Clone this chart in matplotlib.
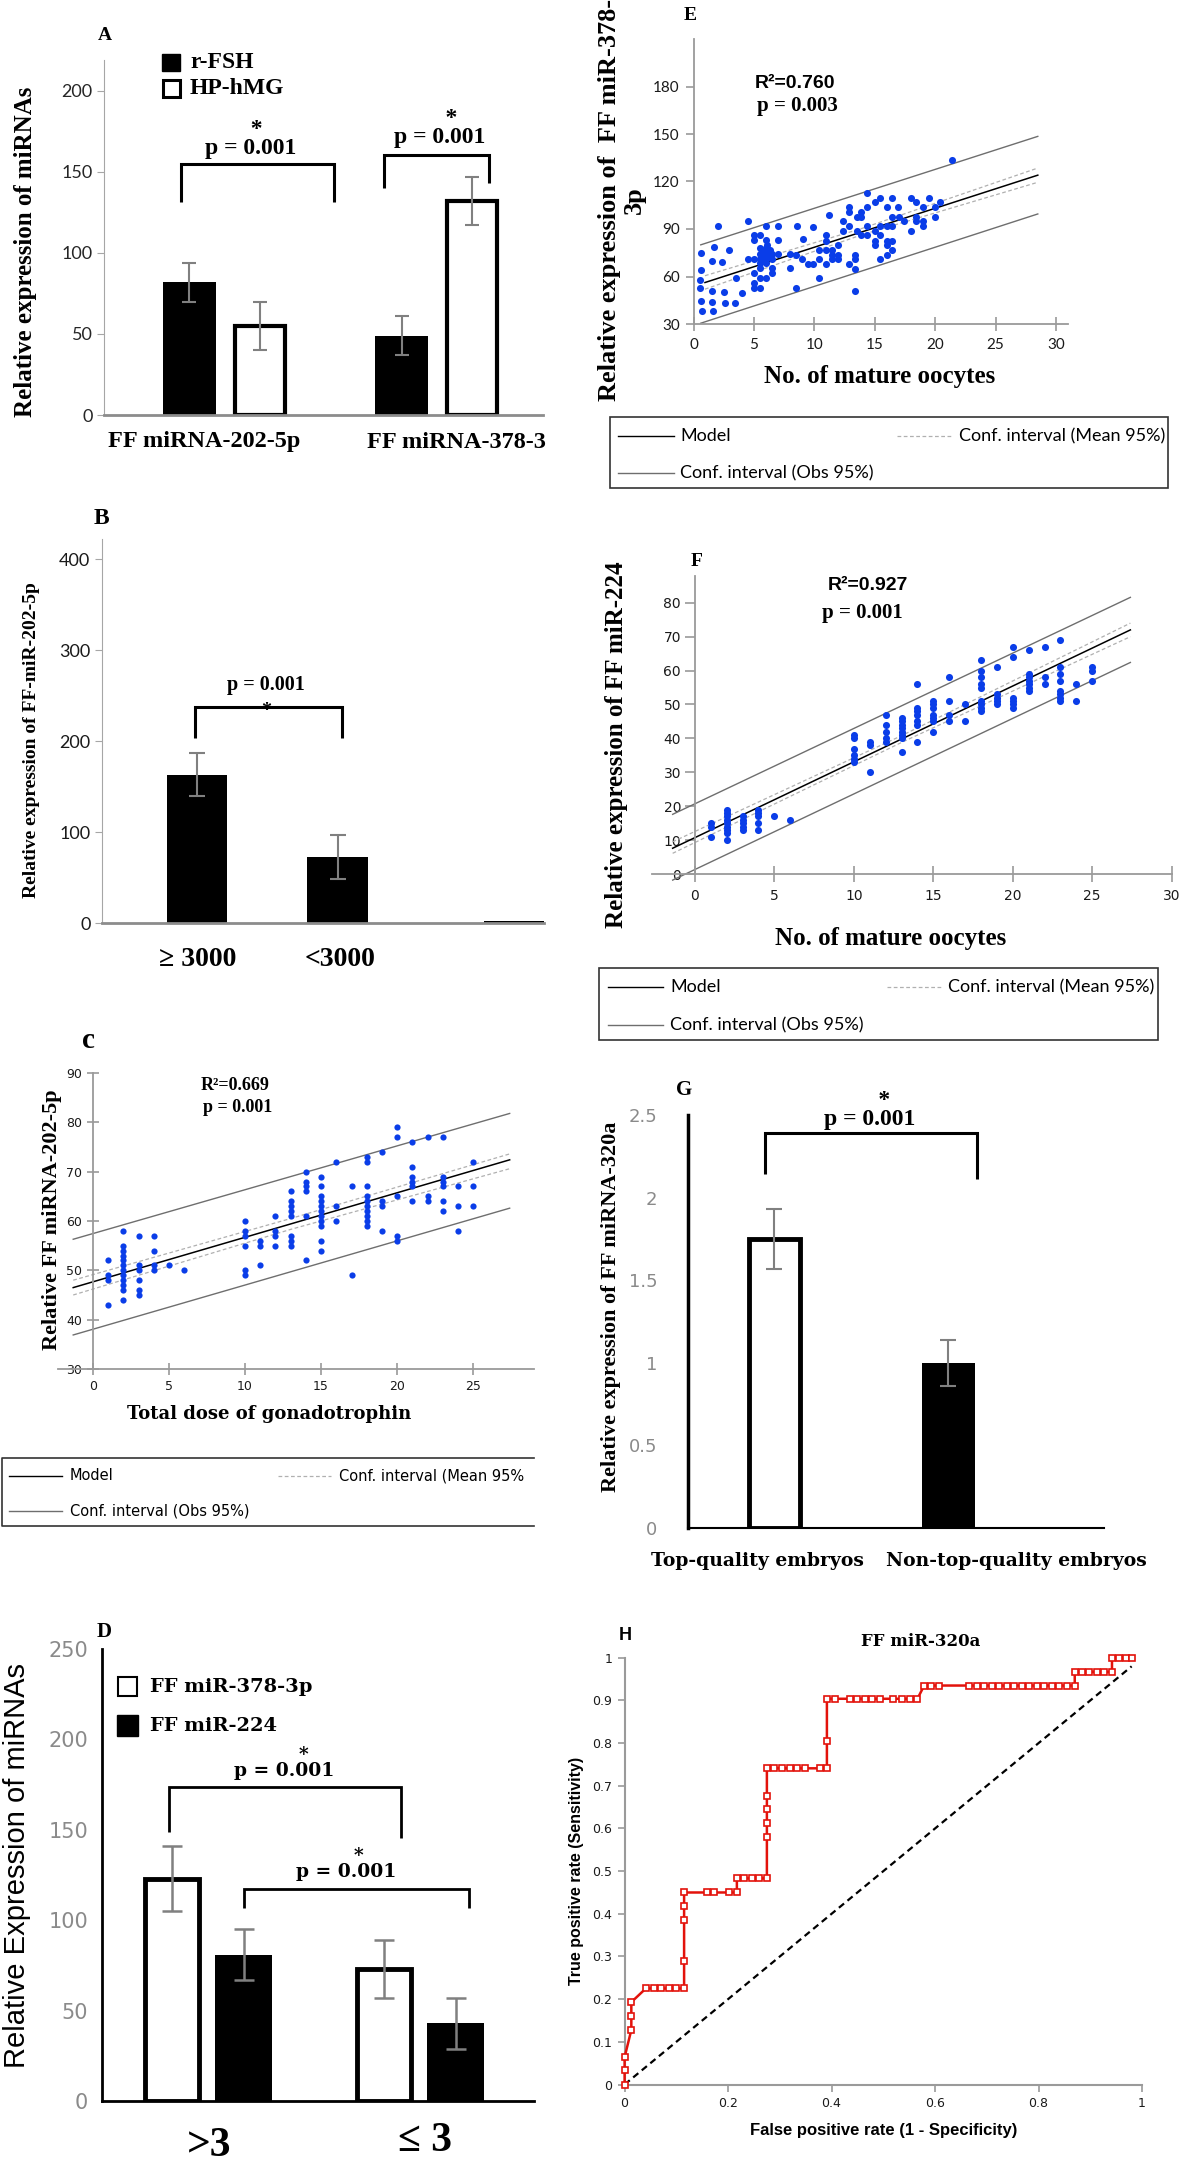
import numpy as np
import matplotlib
matplotlib.use('Agg')
import matplotlib.pyplot as plt
from matplotlib.patches import Rectangle
from matplotlib import ticker, transforms

# ======================= DATA =======================
# Panel A
a_groups = ['FF miRNA-202-5p', 'FF miRNA-378-3']
a_series = ['r-FSH', 'HP-hMG']
a_rfsh = [82, 49]
a_rfsh_err = [12, 12]
a_hphmg = [55, 132]
a_hphmg_err = [15, 15]

# Panel B
b_labels = ['\u2265 3000', '<3000', '']
b_vals = [163, 73, 3]
b_err = [23.5, 24, 0]

# Panel C (scatter: total dose vs FF miRNA-202-5p)
c_x = [1, 1, 1, 1,
       2, 2, 2, 2, 2, 2, 2, 2, 2, 2, 2, 2,
       3, 3, 3, 3, 3, 3,
       4, 4, 4, 4,
       5, 6,
       10, 10, 10, 10, 10, 10,
       11, 11, 11,
       12, 12, 12, 12,
       13, 13, 13, 13, 13, 13, 13, 13,
       14, 14, 14, 14, 14, 14,
       15, 15, 15, 15, 15, 15, 15, 15, 15, 15, 15,
       16, 16, 16,
       17, 17,
       18, 18, 18, 18, 18, 18, 18, 18, 18, 18,
       19, 19, 19, 19,
       20, 20, 20, 20, 20,
       21, 21, 21, 21, 21, 21,
       22, 22, 22,
       23, 23, 23, 23, 23, 23,
       24, 24, 24,
       25, 25, 25]
c_y = [52, 49, 48, 43,
       58, 55, 54, 53, 52, 51, 50, 49, 48, 47, 46, 44,
       57, 51, 50, 48, 46, 45,
       57, 54, 51, 50,
       51, 50,
       60, 58, 57, 55, 50, 49,
       56, 55, 51,
       61, 58, 57, 55,
       66, 64, 63, 62, 61, 57, 56, 55,
       70, 68, 67, 66, 61, 52,
       69, 67, 65, 64, 63, 62, 61, 60, 59, 56, 54,
       72, 63, 60,
       67, 49,
       73, 72, 67, 65, 64, 63, 62, 61, 60, 59,
       74, 64, 63, 58,
       79, 77, 65, 57, 56,
       76, 71, 69, 68, 67, 64,
       77, 65, 64,
       77, 69, 68, 67, 64, 62,
       67, 63, 58,
       72, 67, 63]
c_line_x = [-1.3, 27.4]
c_model = [46.5, 72.4]
c_obs_hi = [56.3, 81.8]
c_obs_lo = [36.9, 62.6]
c_mean_x = [-1.3, 13, 27.4]
c_mean_hi = [48.0, 60.5, 73.6]
c_mean_lo = [45.0, 58.3, 70.6]

# Panel D
d_groups = ['>3', '\u2264 3']
d_series = ['FF miR-378-3p', 'FF miR-224']
d_378 = [123, 73]
d_378_err = [18, 16]
d_224 = [81, 43]
d_224_err = [14, 14]

# Panel E (scatter: mature oocytes vs FF miR-378-3p)
e_x = [21.4, 14.4, 15.4, 16.4, 18.0, 19.5, 15.0, 18.4, 20.4, 12.9, 14.4, 16.0, 16.9,
       19.0, 20.0, 12.9, 13.9, 11.2, 13.5, 16.4, 17.0, 20.0, 18.4, 13.9, 12.4, 17.4,
       18.4, 19.0, 4.5, 2.0, 6.0, 7.0, 8.6, 9.9, 12.9, 14.4, 15.4, 16.0, 16.4, 19.0,
       12.4, 13.5, 15.0, 18.0, 5.0, 5.5, 11.0, 13.9, 14.4, 15.4, 5.0, 6.0, 7.0, 9.1,
       11.0, 15.0, 16.0, 16.4, 12.0, 15.0, 16.0, 1.7, 2.9, 5.5, 6.0, 10.4, 11.0, 11.5,
       16.4, 0.6, 5.5, 6.0, 6.5, 7.0, 8.0, 8.5, 11.5, 12.0, 13.4, 16.0, 4.5, 5.0, 5.5,
       6.0, 6.5, 9.0, 10.4, 11.5, 12.0, 13.4, 15.4, 1.5, 2.4, 5.5, 6.0, 9.5, 9.9, 11.0,
       12.9, 5.5, 6.5, 8.0, 13.4, 0.6, 5.0, 6.5, 3.5, 5.5, 6.0, 10.4, 0.5, 5.0, 5.0,
       5.5, 8.5, 0.5, 1.5, 13.4, 4.0, 2.5, 0.6, 1.5, 2.6, 3.4, 0.7, 1.6,
       5.8, 6.2, 5.8, 6.1, 5.7, 6.3]
e_y = [133.8, 112.7, 109.5, 109.7, 109.7, 109.7, 106.8, 106.8, 106.8, 103.6, 103.6, 103.6, 103.6,
       103.6, 103.6, 100.5, 100.5, 98.8, 97.5, 97.5, 97.5, 97.5, 97.5, 97.5, 94.8, 94.8,
       94.8, 94.8, 95.2, 91.6, 92.0, 92.0, 92.0, 91.2, 91.6, 91.6, 91.6, 91.6, 91.6, 91.6,
       88.9, 88.9, 88.9, 88.9, 85.9, 85.9, 85.9, 85.9, 85.9, 85.9, 83.2, 83.2, 83.2, 83.8,
       82.7, 82.7, 82.7, 82.7, 79.8, 79.8, 79.8, 78.5, 77.0, 77.9, 77.9, 76.8, 76.8, 76.8,
       76.8, 74.7, 74.1, 74.1, 74.1, 74.1, 74.1, 73.7, 73.7, 73.7, 73.7, 73.7, 71.1, 71.1, 71.1,
       71.1, 71.1, 70.9, 70.9, 70.9, 70.9, 70.9, 70.9, 70.1, 69.0, 68.4, 68.4, 67.6, 67.6, 67.6,
       67.6, 65.2, 65.2, 65.2, 64.8, 64.4, 62.1, 62.1, 59.3, 59.3, 59.3, 58.9, 57.8, 55.7, 53.0,
       53.0, 53.0, 52.6, 51.1, 50.9, 49.8, 50.0, 44.8, 43.9, 43.5, 43.3, 38.4, 38.0,
       76.0, 72.5, 69.5, 80.0, 73.0, 76.5]
e_line_x = [0.95, 28.5]
e_model = [56.2, 124.0]
e_obs_x = [0.6, 28.5]
e_obs_hi = [80.0, 148.5]
e_obs_lo = [30.5, 99.5]
e_mean_x = [0.95, 14, 28.5]
e_mean_hi = [60.5, 90.5, 128.5]
e_mean_lo = [52.0, 86.5, 119.5]

# Panel F (scatter: mature oocytes vs FF miR-224)
f_x = [1, 1, 1,
       2, 2, 2, 2, 2, 2, 2, 2, 2,
       3, 3, 3, 3, 3,
       4, 4, 4, 4, 4,
       5, 6,
       10, 10, 10, 10, 10, 10,
       11, 11, 11,
       12, 12, 12, 12, 12,
       13, 13, 13, 13, 13, 13, 13, 13,
       14, 14, 14, 14, 14, 14, 14,
       15, 15, 15, 15, 15, 15, 15,
       16, 16, 16, 16,
       17, 17,
       18, 18, 18, 18, 18, 18, 18, 18, 18,
       19, 19, 19, 19, 19,
       20, 20, 20, 20, 20, 20,
       21, 21, 21, 21, 21, 21, 21,
       22, 22, 22,
       23, 23, 23, 23, 23, 23, 23, 23,
       24, 24,
       25, 25, 25]
f_y = [15, 14, 11,
       19, 18, 17, 16, 15, 14, 13, 12, 10,
       17, 16, 15, 14, 13,
       19, 18, 17, 15, 13,
       17, 16,
       41, 40, 37, 35, 34, 33,
       39, 38, 30,
       47, 44, 42, 40, 39,
       46, 45, 44, 43, 42, 41, 40, 36,
       56, 49, 48, 47, 45, 44, 39,
       51, 50, 49, 47, 46, 45, 42,
       58, 51, 47, 45,
       50, 45,
       63, 60, 58, 56, 55, 51, 50, 49, 48,
       61, 53, 52, 51, 50,
       67, 64, 52, 51, 50, 49,
       66, 59, 58, 57, 56, 55, 54,
       67, 58, 56,
       69, 61, 59, 57, 54, 53, 52, 51,
       56, 51,
       61, 60, 57]
f_line_x = [-1.4, 27.4]
f_model = [7.6, 72.0]
f_obs_hi = [17.6, 81.6]
f_obs_lo = [-1.8, 62.4]
f_mean_x = [-1.4, 13, 27.4]
f_mean_hi = [9.5, 40.8, 74.0]
f_mean_lo = [6.1, 38.8, 70.0]

# Panel G
g_groups = ['Top-quality embryos', 'Non-top-quality embryos']
g_vals = [1.75, 1.0]
g_err = [0.18, 0.14]

# Panel H (ROC curve FF miR-320a)
h_fpr = [0, 0, 0, 0.013, 0.013, 0.013,
         0.041, 0.057, 0.071, 0.086, 0.100, 0.115,
         0.115, 0.115, 0.115, 0.115,
         0.159, 0.173, 0.202, 0.217,
         0.217, 0.231, 0.246, 0.260, 0.275,
         0.275, 0.275, 0.275, 0.275, 0.275,
         0.289, 0.304, 0.319, 0.333, 0.348, 0.377, 0.391,
         0.391, 0.391,
         0.406, 0.435, 0.449, 0.464, 0.479, 0.493, 0.519, 0.537, 0.551, 0.566,
         0.579, 0.593, 0.608,
         0.666, 0.681, 0.695, 0.710, 0.724, 0.739, 0.753, 0.768, 0.782, 0.797,
         0.811, 0.826, 0.840, 0.855, 0.870,
         0.870, 0.884, 0.898, 0.913, 0.927, 0.942,
         0.942, 0.955, 0.969, 0.980]
h_tpr = [0, 0.033, 0.064, 0.128, 0.161, 0.193,
         0.225, 0.225, 0.225, 0.225, 0.225, 0.225,
         0.290, 0.385, 0.419, 0.450,
         0.450, 0.450, 0.450, 0.450,
         0.483, 0.483, 0.483, 0.483, 0.483,
         0.579, 0.612, 0.645, 0.677, 0.741,
         0.741, 0.741, 0.741, 0.741, 0.741, 0.741, 0.741,
         0.806, 0.904,
         0.904, 0.904, 0.904, 0.904, 0.904, 0.904, 0.904, 0.904, 0.904, 0.904,
         0.935, 0.935, 0.935,
         0.935, 0.935, 0.935, 0.935, 0.935, 0.935, 0.935, 0.935, 0.935, 0.935,
         0.935, 0.935, 0.935, 0.935, 0.935,
         0.967, 0.967, 0.967, 0.967, 0.967, 0.967,
         1.0, 1.0, 1.0, 1.0]
h_ref_x = [0, 0.98]
h_ref_y = [0, 0.98]

# ======================= STYLE / LAYOUT =======================
W, H = 1181, 2168
SERIF = ['Liberation Serif', 'DejaVu Serif']
WIDE = 'DejaVu Serif'
CAL = 'Lato'
VER = 'DejaVu Sans'
ARIAL = 'Liberation Sans'
BLUE = '#0a3de8'
ERRC = '#808080'
PTXT = 'p = 0.001'

fig = plt.figure(figsize=(W / 100, H / 100), dpi=100)


def add_ax(l, t, r, b):
    ax = fig.add_axes([l / W, 1 - b / H, (r - l) / W, (b - t) / H])
    ax.patch.set_alpha(0)
    for s in ['top', 'right']:
        ax.spines[s].set_visible(False)
    return ax


def tick_font(ax, family, size, color='black'):
    ax.tick_params(labelsize=size, labelcolor=color)
    for lab in ax.get_xticklabels() + ax.get_yticklabels():
        lab.set_fontfamily(family)


def bracket(ax, x1, x2, ytop, yl, yr, tx, ty, fs, family=SERIF, lw=2.2,
            star='above', nsp=2):
    """Significance bracket; (tx, ty) = centre of the digits of the p text."""
    ax.plot([x1, x1, x2, x2], [yl, ytop, ytop, yr], color='black', lw=lw,
            solid_joinstyle='miter', solid_capstyle='butt', clip_on=False, zorder=4)
    wide = (family == WIDE)
    cen = 0.365 if wide else 0.338
    desc = 0.236 if wide else 0.217
    asc = 0.76 if wide else 0.677
    if star == 'above':
        s = ' ' * nsp + '*\n' + PTXT
        tr = transforms.offset_copy(ax.transData, fig=fig, y=-(cen + desc) * fs, units='points')
        va, ls = 'bottom', (0.84 if wide else 0.88)
    else:
        s = PTXT + '\n' + ' ' * nsp + '*'
        tr = transforms.offset_copy(ax.transData, fig=fig, y=(asc - cen) * fs, units='points')
        va, ls = 'top', 1.36
    ax.text(tx, ty, s, transform=tr, ha='center', va=va, multialignment='center',
            linespacing=ls, family=family, weight='bold', fontsize=fs, zorder=5)


fmt_g = ticker.FuncFormatter(lambda v, p: f'{v:g}')

# ----------------------- Panel A -----------------------
axA = add_ax(103.5, 60, 543, 415)
xa = np.arange(len(a_groups))
axA.bar(xa - 0.165, a_rfsh, 0.25, color='black', zorder=2)
axA.bar(xa + 0.165, a_hphmg, 0.235, facecolor='white', edgecolor='black', linewidth=3, zorder=2)
axA.errorbar(xa - 0.165, a_rfsh, yerr=a_rfsh_err, fmt='none', ecolor=ERRC,
             elinewidth=1.5, capsize=5, capthick=1.5, zorder=3)
axA.errorbar(xa + 0.165, a_hphmg, yerr=a_hphmg_err, fmt='none', ecolor=ERRC,
             elinewidth=1.5, capsize=5, capthick=1.5, zorder=3)
axA.set_xlim(-0.57, 1.5)
axA.set_ylim(0, 219)
axA.spines['left'].set_color('#a6a6a6')
axA.spines['bottom'].set_color('#8c8c8c')
axA.spines['bottom'].set_linewidth(2)
axA.set_xticks([])
axA.set_yticks([0, 50, 100, 150, 200])
axA.tick_params(axis='y', length=5, color='#a6a6a6', pad=3)
tick_font(axA, CAL, 13, '#262626')
bracket(axA, -0.205, 0.515, 155, 131.5, 131.5, 0.125, 166, 17, nsp=2)
bracket(axA, 0.75, 1.245, 160.5, 140, 143, 1.014, 173, 17, nsp=4)

# ----------------------- Panel B -----------------------
axB = add_ax(101.6, 539, 544, 923.3)
b_pos = np.array([0, 1, 2.255])
axB.bar(b_pos, b_vals, 0.43, color='black', zorder=2)
axB.errorbar(b_pos[:2], b_vals[:2], yerr=b_err[:2], fmt='none', ecolor=ERRC,
             elinewidth=1.5, capsize=6, capthick=1.5, zorder=3)
axB.set_xlim(-0.68, 2.47)
axB.set_ylim(0, 422)
axB.spines['left'].set_color('#a6a6a6')
axB.spines['bottom'].set_color('#8c8c8c')
axB.spines['bottom'].set_linewidth(2)
axB.set_xticks([])
axB.set_yticks([0, 100, 200, 300, 400])
axB.tick_params(axis='y', length=5, color='#a6a6a6', pad=3)
tick_font(axB, CAL, 13, '#1a1a1a')
bracket(axB, -0.014, 1.03, 237, 204, 204, 0.49, 265, 14.5, star='below', nsp=0)

# ----------------------- Panel C -----------------------
axC = add_ax(58, 1073, 534, 1369)
axC.scatter(c_x, c_y, s=20, color=BLUE, linewidths=0, zorder=3)
axC.plot(c_line_x, c_obs_hi, color='#6e6e6e', lw=1.0, zorder=2)
axC.plot(c_line_x, c_obs_lo, color='#6e6e6e', lw=1.0, zorder=2)
axC.plot(c_mean_x, c_mean_hi, color='#b0b0b0', lw=0.9, ls=(0, (3, 2)), zorder=2)
axC.plot(c_mean_x, c_mean_lo, color='#b0b0b0', lw=0.9, ls=(0, (3, 2)), zorder=2)
axC.plot(c_line_x, c_model, color='black', lw=1.1, zorder=2)
axC.set_xlim(-2.3, 29)
axC.set_ylim(30, 90)
axC.spines['left'].set_position(('data', 0))
for s in ['left', 'bottom']:
    axC.spines[s].set_color('#9a9a9a')
    axC.spines[s].set_linewidth(1.3)
axC.set_xticks([0, 5, 10, 15, 20, 25])
axC.set_yticks([30, 40, 50, 60, 70, 80, 90])
axC.tick_params(direction='inout', length=8, color='#9a9a9a', width=1.2, pad=4)
tick_font(axC, VER, 9, '#1a1a1a')

# ----------------------- Panel D -----------------------
axD = add_ax(102, 1649, 534, 2101)
xd = np.arange(len(d_groups))
axD.bar(xd - 0.17, d_378, 0.255, facecolor='white', edgecolor='black', linewidth=3.5, zorder=2)
axD.bar(xd + 0.17, d_224, 0.27, color='black', zorder=2)
axD.errorbar(xd - 0.17, d_378, yerr=d_378_err, fmt='none', ecolor=ERRC,
             elinewidth=1.8, capsize=7, capthick=1.8, zorder=3)
axD.errorbar(xd + 0.17, d_224, yerr=d_224_err, fmt='none', ecolor=ERRC,
             elinewidth=1.8, capsize=7, capthick=1.8, zorder=3)
axD.set_xlim(-0.5, 1.54)
axD.set_ylim(0, 250)
for s in ['left', 'bottom']:
    axD.spines[s].set_color('black')
    axD.spines[s].set_linewidth(2)
axD.set_xticks([])
axD.set_yticks([0, 50, 100, 150, 200, 250])
axD.tick_params(axis='y', length=0, pad=10)
tick_font(axD, VER, 15, '#8a8a8a')
bracket(axD, -0.184, 0.913, 173.7, 149, 145.6, 0.36, 184, 13.5, family=WIDE, lw=2, nsp=6)
bracket(axD, 0.17, 1.234, 117, 107, 107, 0.652, 128, 13.5, family=WIDE, lw=2, nsp=4)

# ----------------------- Panel E -----------------------
axE = add_ax(693.5, 39, 1068, 324)
axE.scatter(e_x, e_y, s=26, color=BLUE, linewidths=0, zorder=3)
axE.plot(e_obs_x, e_obs_hi, color='#6e6e6e', lw=1.0, zorder=2)
axE.plot(e_obs_x, e_obs_lo, color='#6e6e6e', lw=1.0, zorder=2)
axE.plot(e_mean_x, e_mean_hi, color='#b0b0b0', lw=0.9, ls=(0, (3, 2)), zorder=2)
axE.plot(e_mean_x, e_mean_lo, color='#b0b0b0', lw=0.9, ls=(0, (3, 2)), zorder=2)
axE.plot(e_line_x, e_model, color='black', lw=1.1, zorder=2)
axE.set_xlim(0, 31)
axE.set_ylim(30, 210)
for s in ['left', 'bottom']:
    axE.spines[s].set_color('#9a9a9a')
    axE.spines[s].set_linewidth(1.3)
axE.set_xticks([0, 5, 10, 15, 20, 25, 30])
axE.set_yticks([30, 60, 90, 120, 150, 180])
axE.tick_params(axis='x', direction='inout', length=10, color='#9a9a9a', width=1.2, pad=5)
axE.tick_params(axis='y', direction='out', length=6, color='#9a9a9a', width=1.2, pad=4)
tick_font(axE, CAL, 11, '#1a1a1a')

# ----------------------- Panel F -----------------------
axF = add_ax(652, 576, 1171.7, 874)
axF.scatter(f_x, f_y, s=26, color=BLUE, linewidths=0, zorder=3)
axF.plot(f_line_x, f_obs_hi, color='#6e6e6e', lw=1.0, zorder=2, clip_on=False)
axF.plot(f_line_x, f_obs_lo, color='#6e6e6e', lw=1.0, zorder=2, clip_on=False)
axF.plot(f_mean_x, f_mean_hi, color='#b0b0b0', lw=0.9, ls=(0, (3, 2)), zorder=2)
axF.plot(f_mean_x, f_mean_lo, color='#b0b0b0', lw=0.9, ls=(0, (3, 2)), zorder=2)
axF.plot(f_line_x, f_model, color='black', lw=1.1, zorder=2)
axF.set_xlim(-2.7, 30)
axF.set_ylim(0, 87.9)
axF.spines['left'].set_position(('data', 0))
for s in ['left', 'bottom']:
    axF.spines[s].set_color('#9a9a9a')
    axF.spines[s].set_linewidth(1.3)
axF.set_xticks([0, 5, 10, 15, 20, 25, 30])
axF.set_yticks([0, 10, 20, 30, 40, 50, 60, 70, 80])
axF.tick_params(axis='x', direction='inout', length=12, color='#9a9a9a', width=1.2, pad=5)
axF.tick_params(axis='y', direction='out', length=7, color='#9a9a9a', width=1.2, pad=3)
tick_font(axF, VER, 10, '#1a1a1a')

# ----------------------- Panel G -----------------------
axG = add_ax(688, 1115, 1104, 1528)
xg = np.arange(len(g_groups))
axG.bar(xg, g_vals, [0.29, 0.305], color=['white', 'black'], edgecolor='black',
        linewidth=[3.5, 0], zorder=2)
axG.errorbar(xg, g_vals, yerr=g_err, fmt='none', ecolor=ERRC,
             elinewidth=1.5, capsize=6, capthick=1.5, zorder=3)
axG.set_xlim(-0.497, 1.894)
axG.set_ylim(0, 2.5)
axG.spines['left'].set_color('black')
axG.spines['left'].set_linewidth(2.5)
axG.spines['bottom'].set_color('black')
axG.spines['bottom'].set_linewidth(1.5)
axG.set_xticks([])
axG.set_yticks([0, 0.5, 1, 1.5, 2, 2.5])
axG.yaxis.set_major_formatter(fmt_g)
axG.tick_params(axis='y', length=0, pad=22)
tick_font(axG, VER, 13, '#8a8a8a')
bracket(axG, -0.055, 1.164, 2.39, 2.14, 2.115, 0.549, 2.49, 17, nsp=5)

# ----------------------- Panel H -----------------------
axH = add_ax(624.6, 1657.8, 1142, 2084.5)
axH.plot(h_ref_x, h_ref_y, color='black', lw=1.6, ls=(0, (3, 2)), zorder=2)
axH.plot(h_fpr, h_tpr, color='#e3120b', lw=1.8, marker='s', ms=5, mfc='white',
         mec='#e3120b', mew=1.2, zorder=3, clip_on=False)
axH.set_xlim(0, 1)
axH.set_ylim(0, 1)
for s in ['left', 'bottom']:
    axH.spines[s].set_color('#9a9a9a')
    axH.spines[s].set_linewidth(1.5)
axH.set_xticks([0, 0.2, 0.4, 0.6, 0.8, 1])
axH.set_yticks([0, 0.1, 0.2, 0.3, 0.4, 0.5, 0.6, 0.7, 0.8, 0.9, 1])
axH.xaxis.set_major_formatter(fmt_g)
axH.yaxis.set_major_formatter(fmt_g)
axH.tick_params(length=5, color='#9a9a9a', width=1.2, pad=4)
tick_font(axH, VER, 9, '#1a1a1a')

# ======================= OVERLAY: labels, legends =======================
ov = fig.add_axes([0, 0, 1, 1], zorder=10)
ov.set_xlim(0, W)
ov.set_ylim(H, 0)
ov.axis('off')
ov.patch.set_alpha(0)


def T(x, y, s, family=SERIF, size=14, weight='bold', rot=0, ha='center', va='center', color='black', **kw):
    ov.text(x, y, s, family=family, fontsize=size, weight=weight, rotation=rot,
            ha=ha, va=va, color=color, **kw)


# --- A ---
T(105, 35, 'A', size=14)
ov.add_patch(Rectangle((162, 54), 18, 17, facecolor='black', edgecolor='black'))
ov.add_patch(Rectangle((163, 80), 17, 17, facecolor='white', edgecolor='black', lw=2.2))
T(190, 62, a_series[0], size=17, ha='left')
T(190, 89, a_series[1], size=17, ha='left')
T(26, 252, 'Relative expression of miRNAs', size=18, rot=90)
T(204, 442, a_groups[0], size=17.5)
T(367, 442, a_groups[1], size=17.5, ha='left')

# --- B ---
T(101, 518, 'B', size=17)
T(32, 740, 'Relative expression of FF-miR-202-5p', size=14, rot=90)
T(197.6, 960, b_labels[0], size=20)
T(340, 960, b_labels[1], size=20)

# --- C ---
T(88, 1040, 'c', size=21)
T(235, 1085, 'R\u00b2=0.669', size=13)
T(238, 1108, 'p = 0.001', size=13)
T(52, 1220, 'Relative FF miRNA-202-5p', size=16, rot=90)
T(269, 1414, 'Total dose of gonadotrophin', family=WIDE, size=13)
# C legend (box open on right side)
ov.plot([534, 2, 2, 534], [1458, 1458, 1526, 1526], color='#333333', lw=1.2)
ov.plot([9, 62], [1476, 1476], color='black', lw=1.0)
ov.plot([9, 62], [1511, 1511], color='#6e6e6e', lw=1.0)
ov.plot([278, 331], [1476, 1476], color='#b0b0b0', lw=0.9, ls=(0, (3, 2)))
T(70, 1476, 'Model', family=VER, size=10.5, weight='normal', ha='left')
T(70, 1511, 'Conf. interval (Obs 95%)', family=VER, size=10.5, weight='normal', ha='left')
T(339, 1476, 'Conf. interval (Mean 95%', family=VER, size=10.5, weight='normal', ha='left')

# --- D ---
T(104.5, 1632, 'D', size=15)
T(17, 1866, 'Relative Expression of miRNAs', family=ARIAL, size=21, weight='normal', rot=90)
ov.add_patch(Rectangle((118, 1677), 19, 19, facecolor='white', edgecolor='black', lw=1.5))
ov.add_patch(Rectangle((117, 1715), 21, 21, facecolor='black', edgecolor='black'))
T(150, 1687, d_series[0], family=WIDE, size=14, ha='left')
T(150, 1726, d_series[1], family=WIDE, size=14, ha='left')
T(209, 2146, d_groups[0], size=30)
T(425, 2141, d_groups[1], size=30)

# --- E ---
T(690, 15, 'E', size=14)
T(795, 84, 'R\u00b2=0.760', family=ARIAL, size=14)
T(797, 106, 'p = 0.003', size=15)
T(622, 200, 'Relative expression of  FF miR-378-\n3p', size=19, rot=90,
  multialignment='center', linespacing=1.1)
T(880, 377, 'No. of mature oocytes', size=18)
ov.add_patch(Rectangle((610, 417), 558, 71, facecolor='none', edgecolor='#333333', lw=1.2))
ov.plot([618, 674], [436, 436], color='black', lw=1.0)
ov.plot([618, 674], [473, 473], color='#6e6e6e', lw=1.0)
ov.plot([897, 951], [436, 436], color='#b0b0b0', lw=0.9, ls=(0, (3, 2)))
T(680, 436, 'Model', family=CAL, size=13, weight='normal', ha='left')
T(680, 473, 'Conf. interval (Obs 95%)', family=CAL, size=13, weight='normal', ha='left')
T(959, 436, 'Conf. interval (Mean 95%)', family=CAL, size=13, weight='normal', ha='left')

# --- F ---
T(696.5, 562, 'F', size=14)
T(868, 585, 'R\u00b2=0.927', family=ARIAL, size=14)
T(862, 613, 'p = 0.001', size=15)
T(617, 745, 'Relative expression of FF miR-224', size=18, rot=90)
T(891, 938, 'No. of mature oocytes', size=18)
ov.add_patch(Rectangle((599, 968), 558.6, 72, facecolor='none', edgecolor='#333333', lw=1.2))
ov.plot([608, 663], [987, 987], color='black', lw=1.0)
ov.plot([608, 663], [1025, 1025], color='#6e6e6e', lw=1.0)
ov.plot([887, 942], [987, 987], color='#b0b0b0', lw=0.9, ls=(0, (3, 2)))
T(670, 987, 'Model', family=CAL, size=13, weight='normal', ha='left')
T(670, 1025, 'Conf. interval (Obs 95%)', family=CAL, size=13, weight='normal', ha='left')
T(948, 987, 'Conf. interval (Mean 95%)', family=CAL, size=13, weight='normal', ha='left')

# --- G ---
T(684, 1090, 'G', size=15)
T(611, 1307, 'Relative expression of FF miRNA-320a', size=16, rot=90)
T(757, 1561, g_groups[0], family=WIDE, size=13.5)
T(1016, 1561, g_groups[1], family=WIDE, size=13.5)

# --- H ---
T(625, 1636, 'H', family=ARIAL, size=13)
T(921, 1642, 'FF miR-320a', family=WIDE, size=12)
T(884, 2131, 'False positive rate (1 - Specificity)', family=ARIAL, size=12)
T(577, 1871, 'True positive rate (Sensitivity)', family=ARIAL, size=11.5, rot=90)

fig.savefig('out.png', dpi=100)
